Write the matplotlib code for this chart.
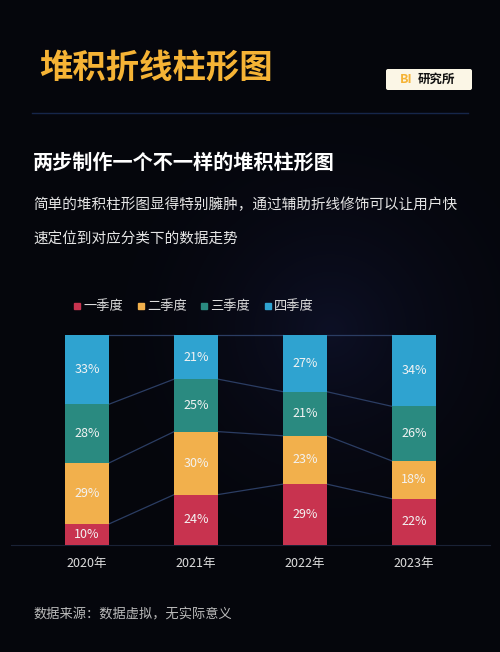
import matplotlib
matplotlib.use("Agg")
import matplotlib.pyplot as plt
from matplotlib.patches import FancyBboxPatch
import numpy as np

plt.rcParams['font.family'] = ['Noto Sans CJK SC', 'DejaVu Sans']

years = ['2020年', '2021年', '2022年', '2023年']
series = ['一季度', '二季度', '三季度', '四季度']
q1 = [10, 24, 29, 22]
q2 = [29, 30, 23, 18]
q3 = [28, 25, 21, 26]
q4 = [33, 21, 27, 34]
colors = ['#c8334f', '#f2b04c', '#2a8a80', '#2fa3d0']

W, H = 500, 652
fig = plt.figure(figsize=(5, 6.52), dpi=100)
fig.patch.set_facecolor('#05060c')

# background glow
bg = fig.add_axes([0, 0, 1, 1]); bg.set_axis_off()
yy, xx = np.mgrid[0:H, 0:W]
d = np.sqrt((xx - 330) ** 2 + (yy - 330) ** 2)
g = np.clip(1 - d / 260, 0, 1) ** 2
img = np.zeros((H, W, 3))
img[..., 0] = (5 + 8 * g) / 255
img[..., 1] = (6 + 10 * g) / 255
img[..., 2] = (12 + 25 * g) / 255
bg.imshow(img, extent=[0, W, H, 0], aspect='auto')
bg.set_xlim(0, W); bg.set_ylim(H, 0)

bg.text(39, 68, '堆积折线柱形图', color='#f5b335', fontsize=24, fontweight='bold', va='center')
bg.plot([32, 468], [113, 113], color='#16264a', lw=1)
bg.add_patch(FancyBboxPatch((386, 69), 86, 21, boxstyle='round,pad=0,rounding_size=2',
                            fc='#fbf6e6', ec='none'))
bg.text(400, 79.5, 'BI', color='#f5b335', fontsize=9, fontweight='bold', va='center')
bg.text(418, 79.5, '研究所', color='#111111', fontsize=9, fontweight='bold', va='center')
bg.text(33, 162, '两步制作一个不一样的堆积柱形图', color='white', fontsize=14.5, fontweight='bold', va='center')
bg.text(33, 205, '简单的堆积柱形图显得特别臃肿，通过辅助折线修饰可以让用户快', color='#e6e6e6', fontsize=10.5, va='center')
bg.text(33, 240, '速定位到对应分类下的数据走势', color='#e6e6e6', fontsize=10.5, va='center')
bg.text(33, 615, '数据来源：数据虚拟，无实际意义', color='#bbbbbb', fontsize=9.5, va='center')

# legend
for i, (s, lx) in enumerate(zip(series, [74, 138, 201, 265])):
    bg.add_patch(plt.Rectangle((lx, 303), 6, 6, color=colors[i]))
    bg.text(lx + 9, 306.5, s, color='#dddddd', fontsize=9.5, va='center')

ax = fig.add_axes([32.5 / W, 1 - 545 / H, 436 / W, 210 / H])
ax.set_facecolor('none')
ax.set_xlim(-0.5, 3.5); ax.set_ylim(0, 100)
x = np.arange(len(years))
bw = 0.4
bottom = np.zeros(4)
data = [q1, q2, q3, q4]
for vals, c in zip(data, colors):
    vals = np.array(vals)
    ax.bar(x, vals, bw, bottom=bottom, color=c, zorder=3)
    for xi, b, v in zip(x, bottom, vals):
        ax.text(xi, b + v / 2, f'{v}%', ha='center', va='center', color='#f3f3f3', fontsize=9, zorder=4)
    bottom = bottom + vals
    for i in range(3):
        ax.plot([x[i] + bw / 2, x[i + 1] - bw / 2], [bottom[i], bottom[i + 1]],
                color='#2b3d63', lw=0.9, zorder=2, clip_on=False)
for s in ax.spines.values():
    s.set_visible(False)
ax.axhline(0, color='#1a2236', lw=0.8, xmin=-0.05, xmax=1.05, clip_on=False)
ax.set_yticks([])
ax.set_xticks(x, years)
ax.tick_params(axis='x', length=0, colors='#dddddd', labelsize=9, pad=9)

fig.savefig('out.png', dpi=100, facecolor=fig.get_facecolor())
